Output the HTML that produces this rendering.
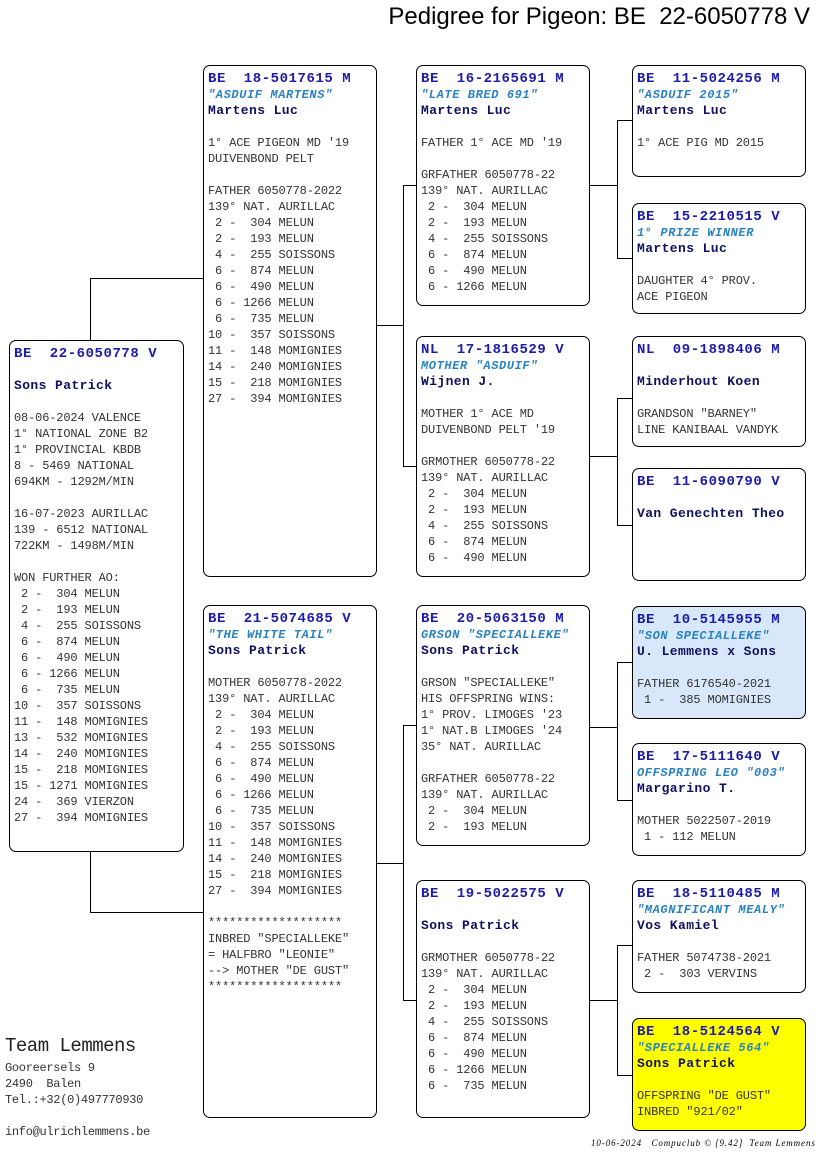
<!DOCTYPE html>
<html><head><meta charset="utf-8"><style>
body{margin:0;width:816px;height:1172px;background:#fff;position:relative;overflow:hidden;font-family:"Liberation Mono",monospace;}
.b{position:absolute;border:1px solid #000;border-radius:7px;background:#fff;box-sizing:border-box;padding:5px 0 0 4px;font-size:12px;line-height:16px;color:#333;white-space:pre;letter-spacing:-0.15px;}
.h{font-weight:bold;color:#1c1ca8;font-size:14px;letter-spacing:0.55px;}
.i{font-style:italic;font-weight:bold;color:#2a82c0;font-size:12px;letter-spacing:0.6px;}
.n{font-weight:bold;color:#101060;font-size:13px;letter-spacing:0.4px;}
.l{position:absolute;background:#000;}
.title{position:absolute;right:6px;top:3px;font-family:"Liberation Sans",sans-serif;font-size:24px;color:#000;}
.team{position:absolute;left:5px;font-size:12px;color:#333;white-space:pre;letter-spacing:-0.3px;}
</style></head><body>
<div class="title">Pedigree for Pigeon: BE&nbsp; 22-6050778 V</div>

<!-- connectors -->
<div class="l" style="left:90px;top:278px;width:1px;height:62px"></div>
<div class="l" style="left:90px;top:278px;width:113px;height:1px"></div>
<div class="l" style="left:90px;top:851px;width:1px;height:62px"></div>
<div class="l" style="left:90px;top:912px;width:113px;height:1px"></div>

<div class="l" style="left:376px;top:325px;width:27px;height:1px"></div>
<div class="l" style="left:403px;top:185px;width:1px;height:282px"></div>
<div class="l" style="left:403px;top:185px;width:13px;height:1px"></div>
<div class="l" style="left:403px;top:466px;width:13px;height:1px"></div>

<div class="l" style="left:376px;top:863px;width:27px;height:1px"></div>
<div class="l" style="left:403px;top:725px;width:1px;height:276px"></div>
<div class="l" style="left:403px;top:725px;width:13px;height:1px"></div>
<div class="l" style="left:403px;top:1000px;width:13px;height:1px"></div>

<div class="l" style="left:589px;top:185px;width:28px;height:1px"></div>
<div class="l" style="left:617px;top:120px;width:1px;height:139px"></div>
<div class="l" style="left:617px;top:120px;width:15px;height:1px"></div>
<div class="l" style="left:617px;top:258px;width:15px;height:1px"></div>

<div class="l" style="left:589px;top:456px;width:28px;height:1px"></div>
<div class="l" style="left:617px;top:398px;width:1px;height:128px"></div>
<div class="l" style="left:617px;top:398px;width:15px;height:1px"></div>
<div class="l" style="left:617px;top:525px;width:15px;height:1px"></div>

<div class="l" style="left:589px;top:727px;width:28px;height:1px"></div>
<div class="l" style="left:617px;top:662px;width:1px;height:139px"></div>
<div class="l" style="left:617px;top:662px;width:15px;height:1px"></div>
<div class="l" style="left:617px;top:800px;width:15px;height:1px"></div>

<div class="l" style="left:589px;top:1000px;width:28px;height:1px"></div>
<div class="l" style="left:617px;top:945px;width:1px;height:131px"></div>
<div class="l" style="left:617px;top:945px;width:15px;height:1px"></div>
<div class="l" style="left:617px;top:1075px;width:15px;height:1px"></div>

<!-- subject -->
<div class="b" style="left:9px;top:340px;width:175px;height:512px"><span class="h">BE  22-6050778 V</span>

<span class="n">Sons Patrick</span>

08-06-2024 VALENCE
1° NATIONAL ZONE B2
1° PROVINCIAL KBDB
8 - 5469 NATIONAL
694KM - 1292M/MIN

16-07-2023 AURILLAC
139 - 6512 NATIONAL
722KM - 1498M/MIN

WON FURTHER AO:
 2 -  304 MELUN
 2 -  193 MELUN
 4 -  255 SOISSONS
 6 -  874 MELUN
 6 -  490 MELUN
 6 - 1266 MELUN
 6 -  735 MELUN
10 -  357 SOISSONS
11 -  148 MOMIGNIES
13 -  532 MOMIGNIES
14 -  240 MOMIGNIES
15 -  218 MOMIGNIES
15 - 1271 MOMIGNIES
24 -  369 VIERZON
27 -  394 MOMIGNIES</div>

<div class="b" style="left:203px;top:65px;width:174px;height:512px"><span class="h">BE  18-5017615 M</span>
<span class="i">"ASDUIF MARTENS"</span>
<span class="n">Martens Luc</span>

1° ACE PIGEON MD '19
DUIVENBOND PELT

FATHER 6050778-2022
139° NAT. AURILLAC
 2 -  304 MELUN
 2 -  193 MELUN
 4 -  255 SOISSONS
 6 -  874 MELUN
 6 -  490 MELUN
 6 - 1266 MELUN
 6 -  735 MELUN
10 -  357 SOISSONS
11 -  148 MOMIGNIES
14 -  240 MOMIGNIES
15 -  218 MOMIGNIES
27 -  394 MOMIGNIES</div>

<div class="b" style="left:203px;top:605px;width:174px;height:513px"><span class="h">BE  21-5074685 V</span>
<span class="i">"THE WHITE TAIL"</span>
<span class="n">Sons Patrick</span>

MOTHER 6050778-2022
139° NAT. AURILLAC
 2 -  304 MELUN
 2 -  193 MELUN
 4 -  255 SOISSONS
 6 -  874 MELUN
 6 -  490 MELUN
 6 - 1266 MELUN
 6 -  735 MELUN
10 -  357 SOISSONS
11 -  148 MOMIGNIES
14 -  240 MOMIGNIES
15 -  218 MOMIGNIES
27 -  394 MOMIGNIES

*******************
INBRED "SPECIALLEKE"
= HALFBRO "LEONIE"
--> MOTHER "DE GUST"
*******************</div>

<div class="b" style="left:416px;top:65px;width:174px;height:241px"><span class="h">BE  16-2165691 M</span>
<span class="i">"LATE BRED 691"</span>
<span class="n">Martens Luc</span>

FATHER 1° ACE MD '19

GRFATHER 6050778-22
139° NAT. AURILLAC
 2 -  304 MELUN
 2 -  193 MELUN
 4 -  255 SOISSONS
 6 -  874 MELUN
 6 -  490 MELUN
 6 - 1266 MELUN</div>

<div class="b" style="left:416px;top:336px;width:174px;height:241px"><span class="h">NL  17-1816529 V</span>
<span class="i">MOTHER "ASDUIF"</span>
<span class="n">Wijnen J.</span>

MOTHER 1° ACE MD
DUIVENBOND PELT '19

GRMOTHER 6050778-22
139° NAT. AURILLAC
 2 -  304 MELUN
 2 -  193 MELUN
 4 -  255 SOISSONS
 6 -  874 MELUN
 6 -  490 MELUN</div>

<div class="b" style="left:416px;top:605px;width:174px;height:241px"><span class="h">BE  20-5063150 M</span>
<span class="i">GRSON "SPECIALLEKE"</span>
<span class="n">Sons Patrick</span>

GRSON "SPECIALLEKE"
HIS OFFSPRING WINS:
1° PROV. LIMOGES '23
1° NAT.B LIMOGES '24
35° NAT. AURILLAC

GRFATHER 6050778-22
139° NAT. AURILLAC
 2 -  304 MELUN
 2 -  193 MELUN</div>

<div class="b" style="left:416px;top:880px;width:174px;height:238px"><span class="h">BE  19-5022575 V</span>

<span class="n">Sons Patrick</span>

GRMOTHER 6050778-22
139° NAT. AURILLAC
 2 -  304 MELUN
 2 -  193 MELUN
 4 -  255 SOISSONS
 6 -  874 MELUN
 6 -  490 MELUN
 6 - 1266 MELUN
 6 -  735 MELUN</div>

<div class="b" style="left:632px;top:65px;width:174px;height:112px"><span class="h">BE  11-5024256 M</span>
<span class="i">"ASDUIF 2015"</span>
<span class="n">Martens Luc</span>

1° ACE PIG MD 2015</div>

<div class="b" style="left:632px;top:203px;width:174px;height:111px"><span class="h">BE  15-2210515 V</span>
<span class="i">1° PRIZE WINNER</span>
<span class="n">Martens Luc</span>

DAUGHTER 4° PROV.
ACE PIGEON</div>

<div class="b" style="left:632px;top:336px;width:174px;height:111px"><span class="h">NL  09-1898406 M</span>

<span class="n">Minderhout Koen</span>

GRANDSON "BARNEY"
LINE KANIBAAL VANDYK</div>

<div class="b" style="left:632px;top:468px;width:174px;height:113px"><span class="h">BE  11-6090790 V</span>

<span class="n">Van Genechten Theo</span></div>

<div class="b" style="left:632px;top:606px;width:174px;height:113px;background:#d8e8fa"><span class="h">BE  10-5145955 M</span>
<span class="i">"SON SPECIALLEKE"</span>
<span class="n">U. Lemmens x Sons</span>

FATHER 6176540-2021
 1 -  385 MOMIGNIES</div>

<div class="b" style="left:632px;top:743px;width:174px;height:113px"><span class="h">BE  17-5111640 V</span>
<span class="i">OFFSPRING LEO "003"</span>
<span class="n">Margarino T.</span>

MOTHER 5022507-2019
 1 - 112 MELUN</div>

<div class="b" style="left:632px;top:880px;width:174px;height:113px"><span class="h">BE  18-5110485 M</span>
<span class="i">"MAGNIFICANT MEALY"</span>
<span class="n">Vos Kamiel</span>

FATHER 5074738-2021
 2 -  303 VERVINS</div>

<div class="b" style="left:632px;top:1018px;width:174px;height:113px;background:#ffff00"><span class="h">BE  18-5124564 V</span>
<span class="i">"SPECIALLEKE 564"</span>
<span class="n">Sons Patrick</span>

OFFSPRING "DE GUST"
INBRED "921/02"</div>

<div class="team" style="top:1035px;font-size:19px;color:#222;letter-spacing:-0.5px">Team Lemmens</div>
<div class="team" style="top:1060px;line-height:16px">Gooreersels 9
2490  Balen
Tel.:+32(0)497770930

info@ulrichlemmens.be</div>
<div style="position:absolute;left:591px;top:1138px;font-family:'Liberation Serif',serif;font-style:italic;font-size:9px;letter-spacing:0.9px;color:#000;white-space:pre">10-06-2024   Compuclub © [9.42]  Team Lemmens</div>
</body></html>
